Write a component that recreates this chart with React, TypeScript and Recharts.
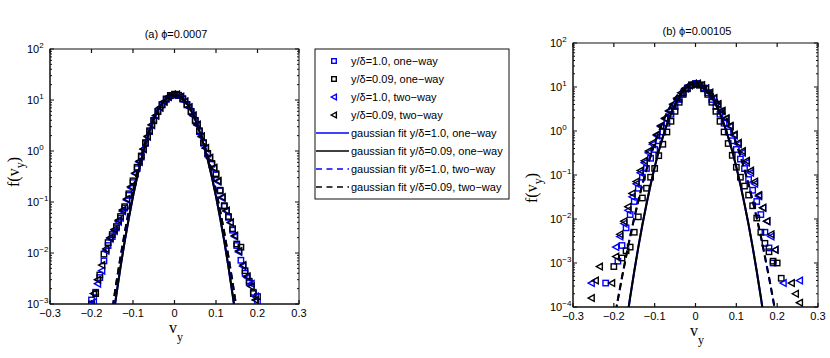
import React from "react";
import { ScatterChart, Scatter, XAxis, YAxis } from "recharts";

const AXIS = "#111111";
const BLUE = "#0000ff";
const BLACK = "#000000";
const SANS = '"Liberation Sans", Arial, Helvetica, sans-serif';
const SERIF = '"Liberation Serif", "Times New Roman", serif';

const X_TICKS = [-0.3, -0.2, -0.1, 0, 0.1, 0.2, 0.3];
const DECADES_A = [0.001, 0.01, 0.1, 1, 10, 100];
const DECADES_B = [0.0001, 0.001, 0.01, 0.1, 1, 10, 100];
const MINOR_STEPS = [2, 3, 4, 5, 6, 7, 8, 9];

// ---- (a) phi = 0.0007 ----
const VY_ONE_A = [
  -0.2, -0.19, -0.18, -0.17, -0.16, -0.15, -0.14, -0.13, -0.12, -0.11, -0.1, -0.09, -0.08, -0.07,
  -0.06, -0.05, -0.04, -0.03, -0.02, -0.01, 0, 0.01, 0.02, 0.03, 0.04, 0.05, 0.06, 0.07, 0.08,
  0.09, 0.1, 0.11, 0.12, 0.13, 0.14, 0.15, 0.16, 0.17, 0.18, 0.19, 0.2,
];
const VY_TWO_A = [
  -0.195, -0.185, -0.175, -0.165, -0.155, -0.145, -0.135, -0.125, -0.115, -0.105, -0.095, -0.085,
  -0.075, -0.065, -0.055, -0.045, -0.035, -0.025, -0.015, -0.005, 0.005, 0.015, 0.025, 0.035,
  0.045, 0.055, 0.065, 0.075, 0.085, 0.095, 0.105, 0.115, 0.125, 0.135, 0.145, 0.155, 0.165,
  0.175, 0.185, 0.195,
];
const A_BLUE_SQ = [
  0.0012, 0.0017, 0.0033, 0.007, 0.014, 0.021, 0.031, 0.048, 0.076, 0.135, 0.24, 0.45, 0.76, 1.4,
  2.4, 3.9, 5.9, 8.0, 10.3, 12.1, 12.8, 12.2, 10.4, 8.0, 5.9, 3.9, 2.4, 1.42, 0.87, 0.55, 0.34,
  0.165, 0.082, 0.05, 0.028, 0.014, 0.0072, 0.004, 0.0026, 0.0017, 0.0011,
];
const A_BLACK_SQ = [
  0.001, 0.0016, 0.0037, 0.0095, 0.016, 0.023, 0.033, 0.052, 0.081, 0.145, 0.26, 0.48, 0.8, 1.46,
  2.5, 4.0, 6.0, 8.1, 10.5, 12.3, 13.0, 12.4, 10.6, 8.2, 6.0, 4.0, 2.5, 1.46, 0.9, 0.57, 0.36,
  0.17, 0.085, 0.052, 0.03, 0.015, 0.013, 0.0045, 0.0028, 0.0016, 0.0014,
];
const A_BLUE_TRI = [
  0.0011, 0.0025, 0.0045, 0.011, 0.019, 0.027, 0.041, 0.066, 0.11, 0.19, 0.36, 0.61, 1.08, 1.9,
  3.2, 4.9, 7.0, 9.2, 11.4, 12.6, 12.6, 11.4, 9.3, 7.1, 4.9, 3.2, 1.9, 1.13, 0.72, 0.46, 0.25,
  0.12, 0.066, 0.039, 0.021, 0.0105, 0.0055, 0.0033, 0.0025, 0.0014,
];
const A_BLACK_TRI = [
  0.0016, 0.003, 0.0058, 0.012, 0.02, 0.029, 0.044, 0.07, 0.115, 0.2, 0.37, 0.63, 1.1, 1.95, 3.3,
  5.0, 7.2, 9.4, 11.6, 12.9, 12.9, 11.6, 9.4, 7.2, 5.0, 3.3, 1.95, 1.15, 0.74, 0.47, 0.26, 0.125,
  0.068, 0.04, 0.022, 0.011, 0.0058, 0.0035, 0.0022, 0.0012,
];
const FIT_X_A = [
  -0.16, -0.15, -0.14, -0.13, -0.12, -0.11, -0.1, -0.09, -0.08, -0.07, -0.06, -0.05, -0.04, -0.03,
  -0.02, -0.01, 0, 0.01, 0.02, 0.03, 0.04, 0.05, 0.06, 0.07, 0.08, 0.09, 0.1, 0.11, 0.12, 0.13,
  0.14, 0.15, 0.16,
];
const A_FIT_BLUE_ONE = [
  0.0001, 0.0004, 0.0015, 0.0053, 0.017, 0.048, 0.128, 0.31, 0.68, 1.35, 2.45, 4.1, 6.2, 8.5,
  10.7, 12.3, 12.9, 12.3, 10.7, 8.5, 6.2, 4.1, 2.45, 1.35, 0.68, 0.31, 0.128, 0.048, 0.017,
  0.0053, 0.0015, 0.0004, 0.0001,
];
const A_FIT_BLACK_ONE = [
  0.0001, 0.00041, 0.00155, 0.0054, 0.017, 0.049, 0.129, 0.31, 0.68, 1.35, 2.45, 4.1, 6.2, 8.5,
  10.7, 12.3, 12.9, 12.3, 10.7, 8.5, 6.2, 4.1, 2.45, 1.35, 0.68, 0.31, 0.129, 0.049, 0.017,
  0.0054, 0.00155, 0.00041, 0.0001,
];
const A_FIT_BLUE_TWO = [
  0.0002, 0.00075, 0.0026, 0.0084, 0.025, 0.067, 0.17, 0.39, 0.81, 1.55, 2.7, 4.4, 6.5, 8.7, 10.8,
  12.3, 12.9, 12.3, 10.8, 8.7, 6.5, 4.4, 2.7, 1.55, 0.81, 0.39, 0.17, 0.067, 0.025, 0.0084,
  0.0026, 0.00075, 0.0002,
];
const A_FIT_BLACK_TWO = [
  0.0002, 0.00076, 0.0027, 0.0085, 0.025, 0.068, 0.17, 0.39, 0.81, 1.55, 2.7, 4.4, 6.5, 8.7, 10.8,
  12.3, 12.9, 12.3, 10.8, 8.7, 6.5, 4.4, 2.7, 1.55, 0.81, 0.39, 0.17, 0.068, 0.025, 0.0085,
  0.0027, 0.00076, 0.0002,
];

// ---- (b) phi = 0.00105 ----
const VY_ONE_B = [
  -0.22, -0.21, -0.2, -0.19, -0.18, -0.17, -0.16, -0.15, -0.14, -0.13, -0.12, -0.11, -0.1, -0.09,
  -0.08, -0.07, -0.06, -0.05, -0.04, -0.03, -0.02, -0.01, 0, 0.01, 0.02, 0.03, 0.04, 0.05, 0.06,
  0.07, 0.08, 0.09, 0.1, 0.11, 0.12, 0.13, 0.14, 0.15, 0.16, 0.17, 0.18, 0.19, 0.2, 0.21, 0.22,
];
const VY_TWO_B = [
  -0.255, -0.245, -0.235, -0.225, -0.215, -0.205, -0.195, -0.185, -0.175, -0.165, -0.155, -0.145,
  -0.135, -0.125, -0.115, -0.105, -0.095, -0.085, -0.075, -0.065, -0.055, -0.045, -0.035, -0.025,
  -0.015, -0.005, 0.005, 0.015, 0.025, 0.035, 0.045, 0.055, 0.065, 0.075, 0.085, 0.095, 0.105,
  0.115, 0.125, 0.135, 0.145, 0.155, 0.165, 0.175, 0.185, 0.195, 0.205, 0.215, 0.225, 0.235,
  0.245, 0.255,
];
const B_BLUE_SQ = [
  0.00035, null, null, 0.0011, 0.0025, 0.0063, 0.0126, 0.025, 0.05, 0.089, 0.141, 0.24, 0.38, 0.6,
  0.95, 1.5, 2.4, 3.6, 5.2, 7.4, 9.5, 11.2, 12.0, 11.2, 9.5, 7.4, 5.2, 3.6, 2.4, 1.5, 0.95, 0.6,
  0.38, 0.23, 0.14, 0.079, 0.045, 0.025, 0.0126, 0.005, 0.0022, 0.001, null, null, null,
];
const B_BLACK_SQ = [
  null, null, 0.00083, null, 0.0013, 0.0019, 0.0023, 0.005, 0.0112, 0.03, 0.05, 0.089, 0.141,
  0.275, 0.5, 0.95, 1.66, 2.8, 4.5, 6.8, 9.1, 11.0, 11.7, 11.0, 9.1, 6.8, 4.5, 2.8, 1.66, 0.95,
  0.52, 0.28, 0.15, 0.089, 0.056, 0.035, 0.02, 0.0105, 0.005, 0.0028, 0.0018, 0.0011, 0.001,
  0.00045, null,
];
const B_BLUE_TRI = [
  0.00035, null, null, null, null, null, 0.0023, 0.004, 0.0079, 0.0158, 0.032, 0.063, 0.112, 0.19,
  0.32, 0.5, 0.79, 1.26, 1.9, 2.8, 4.0, 5.5, 7.4, 9.3, 11.0, 12.0, 12.0, 11.0, 9.3, 7.4, 5.5, 4.0,
  2.8, 1.9, 1.26, 0.79, 0.5, 0.32, 0.19, 0.112, 0.063, 0.033, 0.018, 0.0089, 0.004, 0.002, null,
  0.00035, null, null, null, 0.0004,
];
const B_BLACK_TRI = [
  0.00016, 0.0004, 0.00083, null, null, 0.00035, 0.0014, 0.0045, 0.0089, 0.019, 0.038, 0.071,
  0.126, 0.21, 0.35, 0.54, 0.83, 1.32, 1.95, 2.9, 4.1, 5.6, 7.4, 9.3, 11.0, 11.7, 11.7, 11.0, 9.3,
  7.4, 5.6, 4.1, 2.9, 1.95, 1.32, 0.83, 0.54, 0.35, 0.21, 0.126, 0.071, 0.035, 0.018, 0.0089,
  0.0045, 0.002, null, null, null, 0.00035, 0.0002, 0.000125,
];
const FIT_X_B = [
  -0.2, -0.19, -0.18, -0.17, -0.16, -0.15, -0.14, -0.13, -0.12, -0.11, -0.1, -0.09, -0.08, -0.07,
  -0.06, -0.05, -0.04, -0.03, -0.02, -0.01, 0, 0.01, 0.02, 0.03, 0.04, 0.05, 0.06, 0.07, 0.08,
  0.09, 0.1, 0.11, 0.12, 0.13, 0.14, 0.15, 0.16, 0.17, 0.18, 0.19, 0.2,
];
const B_FIT_BLUE_ONE = [
  0.0000003, 0.0000015, 0.0000082, 0.000039, 0.000164, 0.00064, 0.0023, 0.0074, 0.022, 0.06,
  0.151, 0.35, 0.73, 1.41, 2.5, 4.0, 6.0, 8.1, 10.1, 11.5, 12.0, 11.5, 10.1, 8.1, 6.0, 4.0, 2.5,
  1.41, 0.73, 0.35, 0.151, 0.06, 0.022, 0.0074, 0.0023, 0.00064, 0.000164, 0.000039, 0.0000082,
  0.0000015, 0.0000003,
];
const B_FIT_BLACK_ONE = [
  0.0000003, 0.0000015, 0.0000085, 0.00004, 0.00017, 0.00065, 0.0023, 0.0075, 0.022, 0.06, 0.152,
  0.35, 0.73, 1.41, 2.5, 4.0, 6.0, 8.1, 10.1, 11.5, 12.0, 11.5, 10.1, 8.1, 6.0, 4.0, 2.5, 1.41,
  0.73, 0.35, 0.152, 0.06, 0.022, 0.0075, 0.0023, 0.00065, 0.00017, 0.00004, 0.0000085,
  0.0000015, 0.0000003,
];
const B_FIT_BLUE_TWO = [
  0.000044, 0.000148, 0.00047, 0.0014, 0.004, 0.0105, 0.026, 0.061, 0.132, 0.27, 0.52, 0.95, 1.62,
  2.6, 3.9, 5.5, 7.3, 9.1, 10.6, 11.6, 12.0, 11.6, 10.6, 9.1, 7.3, 5.5, 3.9, 2.6, 1.62, 0.95,
  0.52, 0.27, 0.132, 0.061, 0.026, 0.0105, 0.004, 0.0014, 0.00047, 0.000148, 0.000044,
];
const B_FIT_BLACK_TWO = [
  0.000045, 0.00015, 0.00048, 0.0014, 0.0041, 0.0106, 0.026, 0.062, 0.133, 0.27, 0.52, 0.95, 1.62,
  2.6, 3.9, 5.5, 7.3, 9.1, 10.6, 11.6, 12.0, 11.6, 10.6, 9.1, 7.3, 5.5, 3.9, 2.6, 1.62, 0.95,
  0.52, 0.27, 0.133, 0.062, 0.026, 0.0106, 0.0041, 0.0014, 0.00048, 0.00015, 0.000045,
];

const LEGEND_LABELS = [
  "y/\u03b4=1.0, one\u2212way",
  "y/\u03b4=0.09, one\u2212way",
  "y/\u03b4=1.0, two\u2212way",
  "y/\u03b4=0.09, two\u2212way",
  "gaussian fit y/\u03b4=1.0, one\u2212way",
  "gaussian fit y/\u03b4=0.09, one\u2212way",
  "gaussian fit y/\u03b4=1.0, two\u2212way",
  "gaussian fit y/\u03b4=0.09, two\u2212way",
];

type Kind = "sq" | "tri" | "solid" | "dash";
type Pt = { x: number; y: number };
type Series = { data: Pt[]; color: string; kind: Kind };

const STYLES: { color: string; kind: Kind }[] = [
  { color: BLUE, kind: "sq" },
  { color: BLACK, kind: "sq" },
  { color: BLUE, kind: "tri" },
  { color: BLACK, kind: "tri" },
  { color: BLUE, kind: "solid" },
  { color: BLACK, kind: "solid" },
  { color: BLUE, kind: "dash" },
  { color: BLACK, kind: "dash" },
];

const pts = (xs: number[], ys: (number | null)[]): Pt[] =>
  xs.flatMap((x, i) => (ys[i] == null ? [] : [{ x, y: ys[i] as number }]));

const withStyles = (sets: Pt[][]): Series[] => sets.map((data, i) => ({ data, ...STYLES[i] }));

const SERIES_A = withStyles([
  pts(VY_ONE_A, A_BLUE_SQ),
  pts(VY_ONE_A, A_BLACK_SQ),
  pts(VY_TWO_A, A_BLUE_TRI),
  pts(VY_TWO_A, A_BLACK_TRI),
  pts(FIT_X_A, A_FIT_BLUE_ONE),
  pts(FIT_X_A, A_FIT_BLACK_ONE),
  pts(FIT_X_A, A_FIT_BLUE_TWO),
  pts(FIT_X_A, A_FIT_BLACK_TWO),
]);

const SERIES_B = withStyles([
  pts(VY_ONE_B, B_BLUE_SQ),
  pts(VY_ONE_B, B_BLACK_SQ),
  pts(VY_TWO_B, B_BLUE_TRI),
  pts(VY_TWO_B, B_BLACK_TRI),
  pts(FIT_X_B, B_FIT_BLUE_ONE),
  pts(FIT_X_B, B_FIT_BLACK_ONE),
  pts(FIT_X_B, B_FIT_BLUE_TWO),
  pts(FIT_X_B, B_FIT_BLACK_TWO),
]);

// panel boxes on the page
type Box = { left: number; width: number; top: number; bottom: number; right: number; yWidth: number };
const BOX_A: Box = { left: 0, width: 320, top: 49, bottom: 304, right: 299, yWidth: 50 };
const BOX_B: Box = { left: 520, width: 310, top: 43, bottom: 307, right: 298, yWidth: 53 };

const logTicks = (decades: number[]) =>
  [...decades.slice(0, -1).flatMap((d) => MINOR_STEPS.map((m) => d * m)), ...decades].sort(
    (a, b) => a - b
  );

const fmtX = (v: number) =>
  v === 0 ? "0" : (v < 0 ? "\u2212" : "") + Math.abs(v).toFixed(1);

const square = (color: string, s = 2.7) => (p: any) =>
  (
    <rect x={p.cx - s} y={p.cy - s} width={2 * s} height={2 * s} fill="none" stroke={color} strokeWidth={1.4} />
  );

const triLeft = (color: string, s = 3.3) => (p: any) =>
  (
    <polygon
      points={`${p.cx - s},${p.cy} ${p.cx + s * 0.85},${p.cy - s} ${p.cx + s * 0.85},${p.cy + s}`}
      fill="none"
      stroke={color}
      strokeWidth={1.4}
    />
  );

const nothing = () => <g />;

// bottom axis tick; also the matching inward tick on the top edge of the box
const xTick = (top: number) => (p: any) => {
  const { x, y, payload } = p;
  return (
    <g>
      <line x1={x} x2={x} y1={y} y2={y - 4} stroke={AXIS} strokeWidth={1.2} />
      <line x1={x} x2={x} y1={top} y2={top + 4} stroke={AXIS} strokeWidth={1.2} />
      <text x={x} y={y + 13} textAnchor="middle" fontFamily={SANS} fontSize={11} fill="#000">
        {fmtX(payload.value)}
      </text>
    </g>
  );
};

// left log-axis tick; also the matching inward tick on the right edge of the box
const yTick = (decades: number[], right: number) => (p: any) => {
  const { x, y, payload } = p;
  const v = payload.value;
  const major = decades.includes(v);
  const len = major ? 4 : 2;
  const exp = Math.round(Math.log10(v));
  return (
    <g>
      <line x1={x} x2={x + len} y1={y} y2={y} stroke={AXIS} strokeWidth={1} />
      <line x1={right} x2={right - len} y1={y} y2={y} stroke={AXIS} strokeWidth={1} />
      {major && (
        <text x={x - 23} y={y + 4} fontFamily={SANS} fontSize={11} fill="#000">
          10
          <tspan dy={-5.5} fontSize={8}>
            {exp < 0 ? "\u2212" + -exp : String(exp)}
          </tspan>
        </text>
      )}
    </g>
  );
};

const BOTTOM_H = 30;

function Panel({ box, decades, series }: { box: Box; decades: number[]; series: Series[] }) {
  const yDomain = [decades[0], decades[decades.length - 1]];
  const yTicks = logTicks(decades);
  const axisLine = { stroke: AXIS, strokeWidth: 1 };
  const margin = {
    top: box.top,
    bottom: 358 - box.bottom - BOTTOM_H,
    right: box.width - box.right,
    left: 0,
  };
  return (
    <div style={{ position: "absolute", left: box.left, top: 0, width: box.width, height: 358 }}>
      <ScatterChart width={box.width} height={358} margin={margin} style={{ overflow: "visible" }}>
        <XAxis
          xAxisId="bx"
          dataKey="x"
          type="number"
          domain={[-0.3, 0.3]}
          ticks={X_TICKS}
          allowDataOverflow
          height={BOTTOM_H}
          tickSize={0}
          tickMargin={0}
          tickLine={false}
          interval={0}
          axisLine={axisLine}
          tick={xTick(box.top)}
        />
        <YAxis
          yAxisId="ly"
          dataKey="y"
          type="number"
          scale="log"
          domain={yDomain}
          ticks={yTicks}
          allowDataOverflow
          width={box.yWidth}
          tickSize={0}
          tickMargin={0}
          tickLine={false}
          interval={0}
          axisLine={axisLine}
          tick={yTick(decades, box.right)}
        />
        {series.map((s, i) =>
          s.kind === "sq" || s.kind === "tri" ? (
            <Scatter
              key={i}
              xAxisId="bx"
              yAxisId="ly"
              data={s.data}
              fill={s.color}
              shape={s.kind === "sq" ? square(s.color) : triLeft(s.color)}
              isAnimationActive={false}
            />
          ) : (
            <Scatter
              key={i}
              xAxisId="bx"
              yAxisId="ly"
              data={s.data}
              fill={s.color}
              line={{
                stroke: s.color,
                strokeWidth: 2,
                strokeDasharray: s.kind === "dash" ? "7 4" : "none",
              }}
              shape={nothing}
              isAnimationActive={false}
            />
          )
        )}
      </ScatterChart>
    </div>
  );
}

// outline of the axes box (top and right edges mainly), drawn on the page layer
function Frame({ box }: { box: Box }) {
  const x0 = box.left + box.yWidth;
  const x1 = box.left + box.right;
  return (
    <rect
      x={x0}
      y={box.top}
      width={x1 - x0}
      height={box.bottom - box.top}
      fill="none"
      stroke={AXIS}
      strokeWidth={1}
    />
  );
}

function Legend() {
  return (
    <g transform="translate(315,49)">
      <rect x={0} y={0} width={194} height={150} fill="#fff" stroke={AXIS} strokeWidth={1} />
      {LEGEND_LABELS.map((label, i) => {
        const cy = 12 + 18 * i;
        const st = STYLES[i];
        let mark: React.ReactNode;
        if (st.kind === "sq") mark = square(st.color, 2.3)({ cx: 19, cy });
        else if (st.kind === "tri") mark = triLeft(st.color, 2.8)({ cx: 19, cy });
        else
          mark = (
            <line
              x1={1}
              x2={34}
              y1={cy}
              y2={cy}
              stroke={st.color}
              strokeWidth={1.6}
              strokeDasharray={st.kind === "dash" ? "6 4.5" : undefined}
            />
          );
        return (
          <g key={i}>
            {mark}
            <text x={36} y={cy + 4} fontFamily={SANS} fontSize={11} fill="#000">
              {label}
            </text>
          </g>
        );
      })}
    </g>
  );
}

function Labels() {
  const yLabel = (x: number, y: number) => (
    <text transform={`translate(${x},${y}) rotate(-90)`} textAnchor="middle" fontFamily={SERIF} fontSize={16} fill="#000">
      f(v
      <tspan dy={5} fontSize={12}>
        y
      </tspan>
      <tspan dy={-5}>)</tspan>
    </text>
  );
  const xLabel = (x: number, y: number) => (
    <text x={x} y={y} textAnchor="middle" fontFamily={SERIF} fontSize={16} fill="#000">
      v
      <tspan dy={8} fontSize={12}>
        y
      </tspan>
    </text>
  );
  return (
    <g>
      <text x={176} y={38} textAnchor="middle" fontFamily={SANS} fontSize={11} fill="#000">
        (a) {"\u03d5"}=0.0007
      </text>
      <text x={697} y={35} textAnchor="middle" fontFamily={SANS} fontSize={11} fill="#000">
        (b) {"\u03d5"}=0.00105
      </text>
      {yLabel(19, 172)}
      {yLabel(537, 188)}
      {xLabel(176, 333)}
      {xLabel(697, 336)}
    </g>
  );
}

export default function App() {
  return (
    <div style={{ position: "absolute", left: 0, top: 0, width: 830, height: 358, background: "#fff" }}>
      <Panel box={BOX_A} decades={DECADES_A} series={SERIES_A} />
      <Panel box={BOX_B} decades={DECADES_B} series={SERIES_B} />
      <svg
        width={830}
        height={358}
        style={{ position: "absolute", left: 0, top: 0, pointerEvents: "none" }}
      >
        <Frame box={BOX_A} />
        <Frame box={BOX_B} />
        <Labels />
        <Legend />
      </svg>
    </div>
  );
}
